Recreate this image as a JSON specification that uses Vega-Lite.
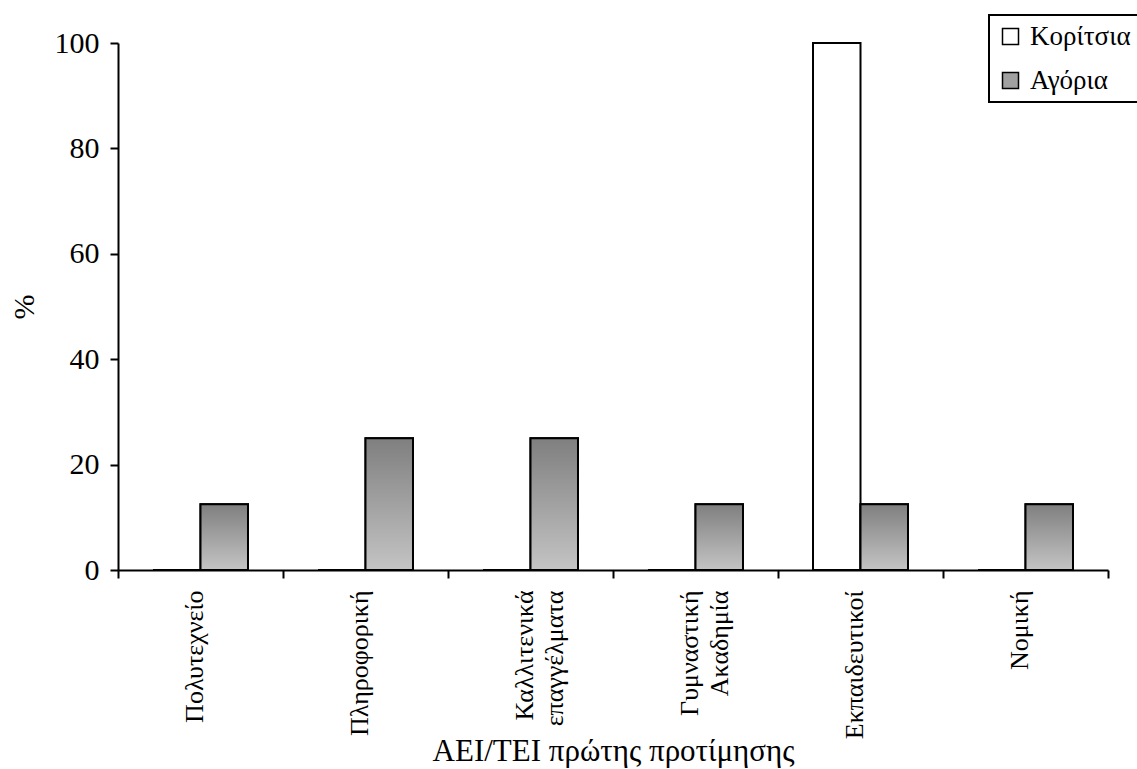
{
  "$schema": "https://vega.github.io/schema/vega-lite/v6.json",
  "width": 990,
  "height": 527,
  "autosize": {"type": "none"},
  "padding": {"left": 118, "top": 43, "right": 29, "bottom": 199},
  "background": "white",
  "config": {
    "view": {"stroke": null},
    "font": "Liberation Serif"
  },
  "data": {
    "values": [
      {"cat": "Πολυτεχνείο", "sex": "Κορίτσια", "pct": 0},
      {"cat": "Πολυτεχνείο", "sex": "Αγόρια", "pct": 12.5},
      {"cat": "Πληροφορική", "sex": "Κορίτσια", "pct": 0},
      {"cat": "Πληροφορική", "sex": "Αγόρια", "pct": 25},
      {"cat": "Καλλιτενικά|επαγγέλματα", "sex": "Κορίτσια", "pct": 0},
      {"cat": "Καλλιτενικά|επαγγέλματα", "sex": "Αγόρια", "pct": 25},
      {"cat": "Γυμναστική|Ακαδημία", "sex": "Κορίτσια", "pct": 0},
      {"cat": "Γυμναστική|Ακαδημία", "sex": "Αγόρια", "pct": 12.5},
      {"cat": "Εκπαιδευτικοί", "sex": "Κορίτσια", "pct": 100},
      {"cat": "Εκπαιδευτικοί", "sex": "Αγόρια", "pct": 12.5},
      {"cat": "Νομική", "sex": "Κορίτσια", "pct": 0},
      {"cat": "Νομική", "sex": "Αγόρια", "pct": 12.5}
    ]
  },
  "encoding": {
    "x": {
      "field": "cat",
      "type": "nominal",
      "sort": null,
      "scale": {"paddingInner": 0, "paddingOuter": 0},
      "axis": {
        "title": "ΑΕΙ/ΤΕΙ πρώτης προτίμησης",
        "titleFont": "Liberation Serif",
        "titleFontSize": 31,
        "titleFontWeight": "normal",
        "titleColor": "black",
        "titleY": 190,
        "titleBaseline": "alphabetic",
        "tickBand": "extent",
        "tickSize": 8,
        "tickColor": "black",
        "tickWidth": 2,
        "domainColor": "black",
        "domainWidth": 2,
        "labelAngle": -90,
        "labelAlign": "right",
        "labelBaseline": "middle",
        "labelPadding": 12,
        "labelOffset": -6,
        "labelFont": "Liberation Serif",
        "labelFontSize": 26,
        "labelColor": "black",
        "labelLineHeight": 30,
        "labelExpr": "split(datum.label, '|')",
        "grid": false
      }
    },
    "xOffset": {
      "field": "sex",
      "type": "nominal",
      "sort": ["Κορίτσια", "Αγόρια"],
      "scale": {"paddingInner": 0, "paddingOuter": 0.737}
    },
    "y": {
      "field": "pct",
      "type": "quantitative",
      "scale": {"domain": [0, 100], "nice": false},
      "axis": {
        "title": "%",
        "titleFont": "Liberation Serif",
        "titleFontSize": 30,
        "titleFontWeight": "normal",
        "titleColor": "black",
        "titleX": -85,
        "titleBaseline": "alphabetic",
        "values": [0, 20, 40, 60, 80, 100],
        "tickSize": 8,
        "tickColor": "black",
        "tickWidth": 2,
        "domainColor": "black",
        "domainWidth": 2,
        "labelPadding": 11,
        "labelFont": "Liberation Serif",
        "labelFontSize": 30,
        "labelColor": "black",
        "grid": false
      }
    }
  },
  "layer": [
    {
      "mark": {"type": "bar", "stroke": "black", "strokeWidth": 2},
      "encoding": {
        "color": {
          "field": "sex",
          "type": "nominal",
          "sort": ["Κορίτσια", "Αγόρια"],
          "scale": {"domain": ["Κορίτσια", "Αγόρια"], "range": ["white", "#a0a0a0"]},
          "legend": {
            "title": null,
            "orient": "none",
            "legendX": 871,
            "legendY": -28,
            "symbolType": "square",
            "symbolSize": 256,
            "symbolStrokeColor": "black",
            "symbolStrokeWidth": 1.5,
            "labelFont": "Liberation Serif",
            "labelFontSize": 27,
            "labelColor": "black",
            "labelOffset": 6,
            "rowPadding": 16,
            "padding": 8,
            "strokeColor": "black",
            "fillColor": "white",
            "labelLimit": 300,
            "encode": {
              "legend": {"update": {"strokeWidth": {"value": 2}}}
            }
          }
        }
      }
    },
    {
      "transform": [{"filter": "datum.sex === 'Αγόρια'"}],
      "mark": {
        "type": "bar",
        "stroke": "black",
        "strokeWidth": 2,
        "fill": {
          "gradient": "linear",
          "x1": 0, "y1": 0, "x2": 0, "y2": 1,
          "stops": [
            {"offset": 0, "color": "#7f7f7f"},
            {"offset": 1, "color": "#c4c4c4"}
          ]
        }
      }
    }
  ]
}
